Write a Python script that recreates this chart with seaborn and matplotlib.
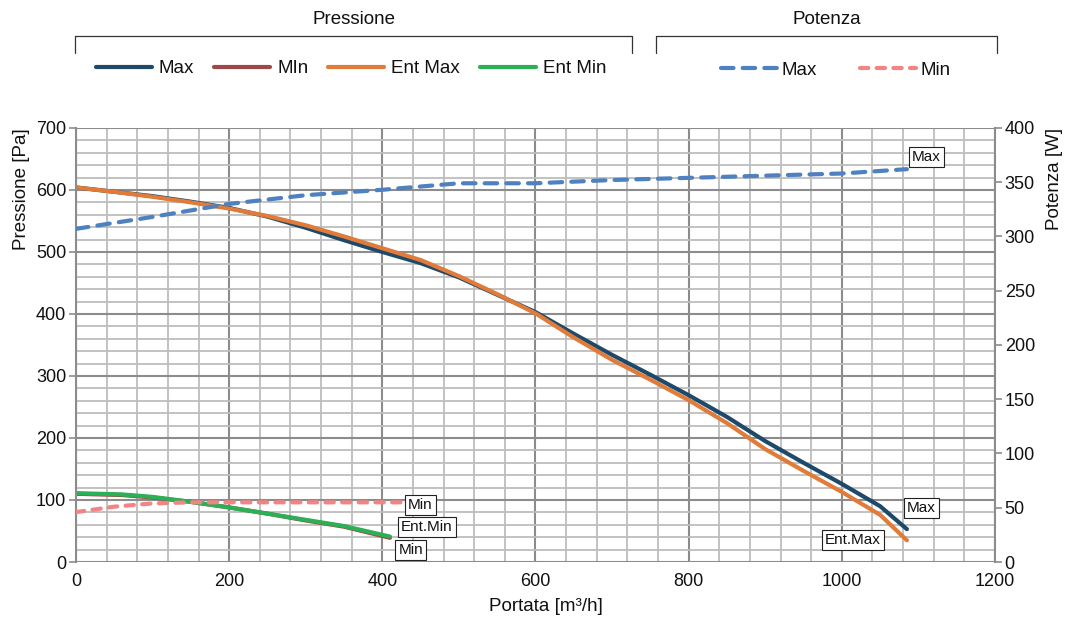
import matplotlib
matplotlib.use("Agg")
import matplotlib.pyplot as plt
from matplotlib.ticker import MultipleLocator
import seaborn as sns
import pandas as pd

# Pressure curves (Pa) against flow rate (m³/h)
portata_max = [0, 50, 100, 150, 200, 250, 300, 350, 400, 450, 500, 550, 600,
               650, 700, 750, 800, 850, 900, 950, 1000, 1050, 1085]
pressione_max = [604, 597, 590, 581, 571, 557, 539, 519, 500, 482, 459, 431, 403,
                 368, 334, 302, 269, 234, 195, 160, 126, 90, 53]
pressione_ent_max = [604, 597, 589, 580, 570, 558, 543, 525, 506, 487, 461, 432, 401,
                     362, 326, 294, 261, 224, 182, 147, 113, 76, 35]

portata_min = [0, 60, 100, 150, 200, 250, 300, 350, 410]
pressione_min = [110, 108, 104, 97, 88, 78, 67, 57, 39]
pressione_ent_min = [111, 109, 105, 97, 88, 78, 68, 58, 41]

# Power curves (W)
portata_pot_max = [0, 100, 200, 300, 400, 500, 600, 700, 800, 900, 1000, 1085]
potenza_max = [307, 318, 330, 338, 343, 349, 349, 352, 354, 356, 358, 362]
portata_pot_min = [0, 50, 100, 150, 200, 300, 430]
potenza_min = [46, 51, 54, 55, 55, 55, 55]

pressure_names = ["Max", "MIn", "Ent Max", "Ent Min"]
power_names = ["Max", "Min"]

c_max, c_min, c_entmax, c_entmin = "#1d4a6b", "#a04848", "#e07b39", "#2bb055"
c_pmax, c_pmin = "#4f81c0", "#f28484"

sns.set_theme(style="white")
plt.rcParams["font.family"] = ["Liberation Sans", "DejaVu Sans"]

fig = plt.figure(figsize=(10.67, 6.21), dpi=100)
ax = fig.add_axes([0.0712, 0.095, 0.8613, 0.699])
ax2 = ax.twinx()

df_p = pd.concat([
    pd.DataFrame({"portata": portata_max, "valore": pressione_max, "serie": pressure_names[0]}),
    pd.DataFrame({"portata": portata_min, "valore": pressione_min, "serie": pressure_names[1]}),
    pd.DataFrame({"portata": portata_max, "valore": pressione_ent_max, "serie": pressure_names[2]}),
    pd.DataFrame({"portata": portata_min, "valore": pressione_ent_min, "serie": pressure_names[3]}),
])
df_w = pd.concat([
    pd.DataFrame({"portata": portata_pot_max, "valore": potenza_max, "serie": power_names[0]}),
    pd.DataFrame({"portata": portata_pot_min, "valore": potenza_min, "serie": power_names[1]}),
])

lw = 3.0
sns.lineplot(data=df_p, x="portata", y="valore", hue="serie", hue_order=pressure_names,
             palette=[c_max, c_min, c_entmax, c_entmin], linewidth=lw, ax=ax,
             legend=False, sort=False)
sns.lineplot(data=df_w, x="portata", y="valore", hue="serie", hue_order=power_names,
             palette=[c_pmax, c_pmin], linewidth=lw, ax=ax2, legend=False, sort=False)

p_lines = ax.get_lines()
w_lines = ax2.get_lines()
for ln in p_lines:
    ln.set_solid_capstyle("round")
    ln.set_solid_joinstyle("round")
w_lines[0].set_dashes((3.0, 2.2))
w_lines[1].set_dashes((2.0, 2.0))
for ln in w_lines:
    ln.set_dash_capstyle("round")
    ln.set_dash_joinstyle("round")

# Axes ranges and grid
ax.set_xlim(0, 1200)
ax.set_ylim(0, 700)
ax2.set_ylim(0, 400)
ax.xaxis.set_major_locator(MultipleLocator(200))
ax.xaxis.set_minor_locator(MultipleLocator(40))
ax.yaxis.set_major_locator(MultipleLocator(100))
ax.yaxis.set_minor_locator(MultipleLocator(20))
ax2.yaxis.set_major_locator(MultipleLocator(50))
ax.grid(which="major", color="#8c8c8c", linewidth=1.5)
ax.grid(which="minor", color="#bdbdbd", linewidth=1.3)
ax.set_axisbelow(True)
ax2.grid(False)

for a in (ax, ax2):
    for s in a.spines.values():
        s.set_visible(False)
ax.spines["left"].set_visible(True)
ax.spines["left"].set_color("#8c8c8c")
ax.spines["left"].set_linewidth(1.5)
ax2.spines["right"].set_visible(True)
ax2.spines["right"].set_color("#8c8c8c")
ax2.spines["right"].set_linewidth(1.5)

tick_kw = dict(which="major", direction="out", length=5, width=1.2, color="#8c8c8c",
               labelsize=13, labelcolor="#111111", pad=2)
ax.tick_params(axis="both", **tick_kw)
ax.tick_params(axis="both", which="minor", length=0)
ax2.tick_params(axis="y", **tick_kw)
ax.tick_params(axis="x", length=0, pad=8)

ax.set_xlabel("Portata [m³/h]", fontsize=13.5, color="#111111", labelpad=6)
ax.xaxis.label.set_x(0.511)
ax.set_ylabel("Pressione [Pa]", fontsize=13.5, color="#111111", labelpad=4, loc="top")
ax2.set_ylabel("Potenza [W]", fontsize=13.5, color="#111111", labelpad=8, loc="top")

# End-of-curve value tags
box = dict(boxstyle="square,pad=0.2", facecolor="white", edgecolor="#222222", linewidth=0.8)
tag_kw = dict(fontsize=11, color="#111111", bbox=box, textcoords="offset points", va="center")
ax2.annotate("Max", (portata_pot_max[-1], potenza_max[-1]), xytext=(3.5, 9), ha="left", **tag_kw)
ax2.annotate("Min", (portata_pot_min[-1], potenza_min[-1]), xytext=(2, -2), ha="left", **tag_kw)
ax.annotate("Ent.Min", (portata_min[-1], pressione_ent_min[-1]), xytext=(8, 7), ha="left", **tag_kw)
ax.annotate("Min", (portata_min[-1], pressione_min[-1]), xytext=(6, -9), ha="left", **tag_kw)
ax.annotate("Max", (portata_max[-1], pressione_max[-1]), xytext=(0, 15), ha="left", **tag_kw)
ax.annotate("Ent.Max", (portata_max[-1], pressione_ent_max[-1]), xytext=(-59, 0), ha="left", **tag_kw)

# Grouped legends above the plot
leg_p = fig.legend(p_lines, pressure_names, loc="center", bbox_to_anchor=(0.329, 0.889),
                   ncol=4, frameon=False, fontsize=13.5, handlelength=3.0, handletextpad=0.37,
                   columnspacing=1.05)
leg_w = fig.legend(w_lines, power_names, loc="center", bbox_to_anchor=(0.783, 0.887),
                   ncol=2, frameon=False, fontsize=13.5, handlelength=3.0, handletextpad=0.22,
                   columnspacing=2.3)
for leg in (leg_p, leg_w):
    for t in leg.get_texts():
        t.set_color("#111111")

def bracket(x0, x1, label):
    y_top, y_bot = 1 - 36 / 621, 1 - 53 / 621
    fig.lines.append(plt.Line2D([x0, x0, x1, x1], [y_bot, y_top, y_top, y_bot],
                                transform=fig.transFigure, color="#333333", linewidth=0.9))
    fig.text((x0 + x1) / 2, 1 - 20 / 621, label, ha="center", va="center",
             fontsize=13.5, color="#111111")

bracket(75 / 1067, 632 / 1067, "Pressione")
bracket(656 / 1067, 997 / 1067, "Potenza")

fig.savefig("out.png", dpi=100)
